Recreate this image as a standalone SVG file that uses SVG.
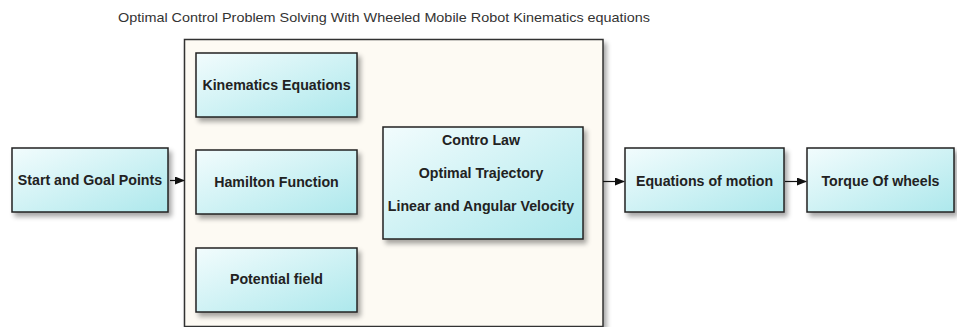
<svg xmlns="http://www.w3.org/2000/svg" width="957" height="327" viewBox="0 0 957 327">
<defs>
<linearGradient id="g" x1="0" y1="0" x2="1" y2="1">
<stop offset="0" stop-color="#f2fcfd"/>
<stop offset="1" stop-color="#ade8ec"/>
</linearGradient>
<filter id="sh" x="-10%" y="-10%" width="130%" height="140%">
<feGaussianBlur in="SourceAlpha" stdDeviation="2.5"/>
<feOffset dx="3" dy="4" result="b"/>
<feComponentTransfer><feFuncA type="linear" slope="0.35"/></feComponentTransfer>
<feMerge><feMergeNode/><feMergeNode in="SourceGraphic"/></feMerge>
</filter>
<marker id="ar" markerWidth="10" markerHeight="8" refX="9" refY="4" orient="auto" markerUnits="userSpaceOnUse">
<path d="M0,0 L10,4 L0,8 z" fill="#111"/>
</marker>
</defs>
<style>
.box{fill:url(#g);stroke:#222;stroke-width:1.5;filter:url(#sh)}
.t{font-family:"Liberation Sans",Arial,sans-serif;font-weight:bold;font-size:14.2px;fill:#222;text-anchor:middle}
.title{font-family:"Liberation Sans",Arial,sans-serif;font-size:13.5px;fill:#333}
.c{stroke:#111;stroke-width:1.2;fill:none;marker-end:url(#ar)}
</style>
<rect width="957" height="327" fill="#fff"/>
<text class="title" x="118" y="22" textLength="532" lengthAdjust="spacingAndGlyphs">Optimal Control Problem Solving With Wheeled Mobile Robot Kinematics equations</text>
<g id="container">
<rect x="184.5" y="39.5" width="418.5" height="287" fill="#fdfaf3" stroke="#333" stroke-width="1.5" filter="url(#sh)"/>
</g>
<g id="start"><rect class="box" x="12" y="148" width="156" height="64"/><text class="t" x="90" y="185">Start and Goal Points</text></g>
<g id="kinematics"><rect class="box" x="196" y="53" width="161" height="64"/><text class="t" x="276.5" y="90">Kinematics Equations</text></g>
<g id="hamilton"><rect class="box" x="196" y="150" width="161" height="64"/><text class="t" x="276.5" y="187">Hamilton Function</text></g>
<g id="potential"><rect class="box" x="196" y="248" width="161" height="64"/><text class="t" x="276.5" y="284">Potential field</text></g>
<g id="control"><rect class="box" x="383" y="127" width="200" height="112"/>
<text class="t" x="481" y="145">Contro Law</text>
<text class="t" x="481" y="178">Optimal Trajectory</text>
<text class="t" x="481" y="211">Linear and Angular Velocity</text></g>
<g id="motion"><rect class="box" x="625" y="148" width="159" height="64"/><text class="t" x="704.5" y="186">Equations of motion</text></g>
<g id="torque"><rect class="box" x="807" y="148" width="147" height="64"/><text class="t" x="880.5" y="186">Torque Of wheels</text></g>
<g id="connectors">
<line class="c" x1="170" y1="180.5" x2="184" y2="180.5"/>
<line class="c" x1="603" y1="181.5" x2="624" y2="181.5"/>
<line class="c" x1="785" y1="181.5" x2="806" y2="181.5"/>
</g>
</svg>
